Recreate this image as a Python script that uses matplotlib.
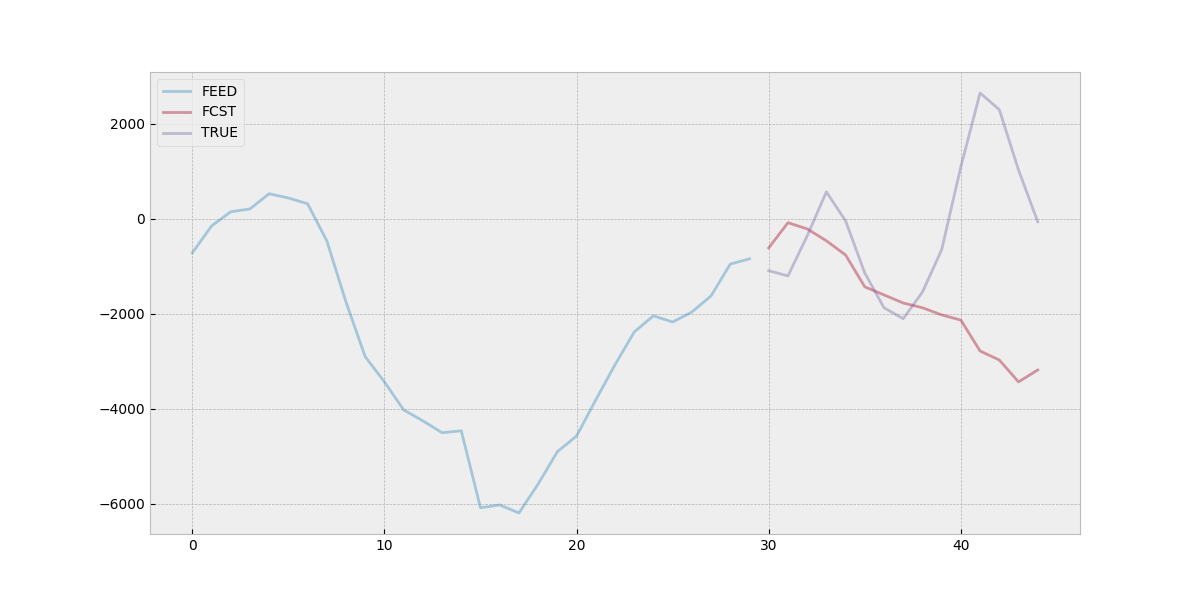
import matplotlib
matplotlib.use("Agg")
import matplotlib.pyplot as plt

feed = [-716, -150, 150, 210, 530, 440, 320, -460, -1750, -2900,
        -3430, -4020, -4250, -4500, -4460, -6080, -6020, -6190, -5580, -4900,
        -4570, -3810, -3070, -2380, -2040, -2170, -1960, -1620, -950, -840]
fcst = [-610, -80, -210, -460, -760, -1430, -1600, -1770, -1870, -2020,
        -2130, -2780, -2970, -3430, -3180]
true = [-1090, -1200, -360, 570, -40, -1140, -1870, -2100, -1540, -650,
        1100, 2650, 2300, 1030, -60]

feed_x = list(range(len(feed)))
fut_x = list(range(len(feed), len(feed) + len(fcst)))

plt.style.use('bmh')
fig, ax = plt.subplots(figsize=(12, 6), dpi=100)
fig.patch.set_facecolor('white')
ax.plot(feed_x, feed, alpha=0.4, label='FEED')
ax.plot(fut_x, fcst, alpha=0.4, label='FCST')
ax.plot(fut_x, true, alpha=0.4, label='TRUE')
ax.legend(loc='upper left')
plt.savefig('out.png')
